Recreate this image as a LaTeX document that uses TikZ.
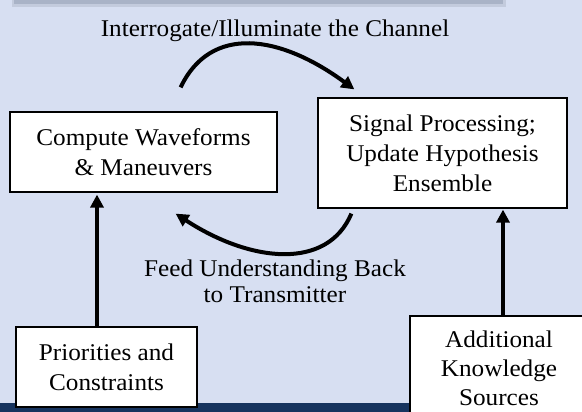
\documentclass[tikz,border=0pt]{standalone}
\usepackage{fontspec}
\setmainfont{Liberation Serif}[FakeStretch=1.05]
\usetikzlibrary{arrows.meta,calc}
\definecolor{bgc}{HTML}{D7DFF2}
\definecolor{navy}{HTML}{17345F}
\definecolor{topbar}{HTML}{A9B3C7}
\definecolor{topshade}{HTML}{C3CBDD}
\begin{document}
\begin{tikzpicture}[x=1pt,y=-1pt,
  box/.style={draw=black,line width=1.2pt,fill=white,inner sep=0pt,align=center,font=\fontsize{24}{30}\selectfont},
  lbl/.style={inner sep=0pt,align=center,font=\fontsize{24}{26}\selectfont},
  big/.style={line width=4pt,-{Triangle[length=13pt,width=13pt]}}]
\useasboundingbox (0,0) rectangle (582,412);
\clip (0,0) rectangle (582,412);
\fill[bgc] (0,0) rectangle (582,412);
\fill[topshade] (12,0) rectangle (506,7);
\fill[topbar] (14,0) rectangle (503,4);
\fill[navy] (0,403) rectangle (582,412);

\node[box,minimum width=267pt,minimum height=80pt] (comp) at (143.5,152) {Compute Waveforms\\\& Maneuvers};
\node[box,minimum width=249pt,minimum height=110pt] (sig) at (442.5,153) {Signal Processing;\\Update Hypothesis\\Ensemble};
\node[box,minimum width=181pt,minimum height=80pt] (prio) at (106.5,367) {Priorities and\\Constraints};
\node[box,minimum width=178pt,minimum height=104pt,font=\fontsize{24}{29}\selectfont] (add) at (499,368) {Additional\\Knowledge\\Sources};

\node[lbl,anchor=base] (top) at (275,37) {Interrogate/Illuminate the Channel};
\node[lbl] (feed) at (275,281.5) {Feed Understanding Back\\to Transmitter};

\draw[big] ($(comp.north east)+(-97,-24)$) .. controls +(30,-63) and +(-75,-55) .. ($(sig.north west)+(37,-8)$);
\draw[big] ($(sig.south west)+(34,5)$) .. controls +(-24,57) and +(75,49) .. ($(comp.south east)+(-102,21)$);
\draw[big] ([xshift=-9.5pt]prio.north) -- ([xshift=-46.5pt,yshift=-2pt]comp.south);
\draw[big] ([xshift=4pt]add.north) -- ([xshift=60.5pt,yshift=-1pt]sig.south);
\end{tikzpicture}
\end{document}
